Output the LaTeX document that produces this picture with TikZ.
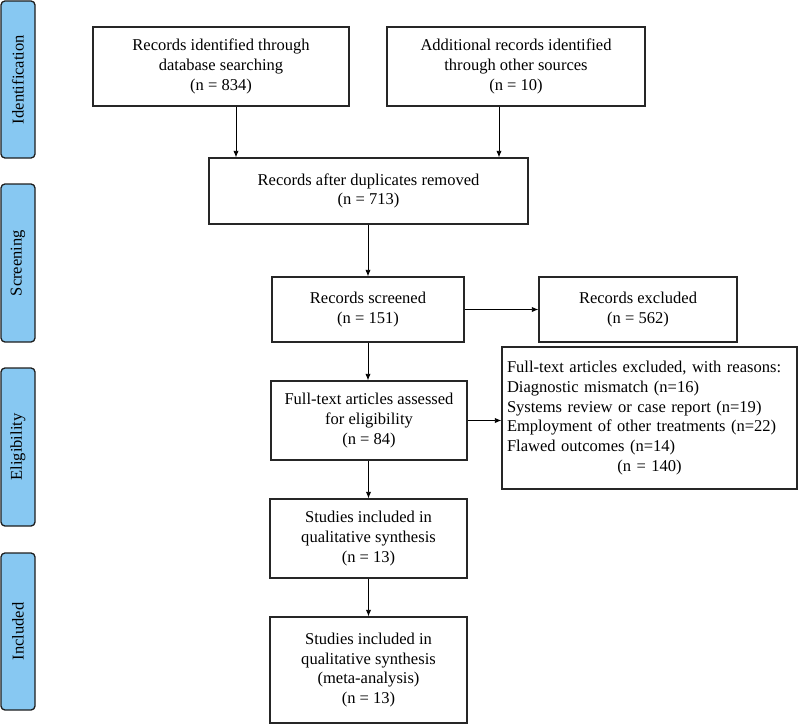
\documentclass[tikz,border=0pt]{standalone}
\usepackage{fontspec}
\setmainfont{Liberation Serif}
\usetikzlibrary{arrows.meta,calc}
\definecolor{sidefill}{RGB}{135,200,242}
\definecolor{sideline}{RGB}{30,30,30}
\begin{document}
\begin{tikzpicture}[x=0.75pt,y=-0.75pt,
  every node/.style={font=\fontsize{12.4pt}{14.8pt}\selectfont},
  box/.style={draw=black!85,line width=0.8pt,align=center,inner sep=0pt},
  side/.style={draw=sideline,fill=sidefill,line width=1pt,rounded corners=3pt,rotate=90,
    minimum height=25.5pt,inner sep=0pt},
  arr/.style={draw=black,line width=0.7pt,-{Latex[length=5pt,width=4pt]}}]
\useasboundingbox (0,0) rectangle (798,724);
% side labels
\node[side,minimum width=117.75pt] (sid) at (18,79.5) {Identification};
\node[side,minimum width=118.5pt] (sscr) at (18,263) {Screening};
\node[side,minimum width=118.5pt] (seli) at (18,447) {Eligibility};
\node[side,minimum width=117.75pt] (sinc) at (18,631.5) {Included};
% boxes
\node[box,minimum width=192pt,minimum height=59.25pt] (b1) at (221,66.5)
  {Records identified through\\database searching\\(n = 834)};
\node[box,minimum width=193.5pt,minimum height=59.25pt] (b2) at (516,66.5)
  {Additional records identified\\through other sources\\(n = 10)};
\node[box,minimum width=239.25pt,minimum height=49.5pt] (b3) at (368.5,191)
  {Records after duplicates removed\\(n = 713)};
\node[box,minimum width=144pt,minimum height=48.75pt] (scr) at (368,309.5)
  {Records screened\\(n = 151)};
\node[box,minimum width=148.5pt,minimum height=48.75pt] (exc) at (638,309.5)
  {Records excluded\\(n = 562)};
\node[box,minimum width=147pt,minimum height=59.25pt] (ass) at (369,420.5)
  {Full-text articles assessed\\for eligibility\\(n = 84)};
\node[box,align=left,text width=213.75pt,inner xsep=3.75pt,minimum height=106.5pt] (ftx) at (649.5,418)
  {Full-text articles excluded, with reasons:\\Diagnostic mismatch (n=16)\\Systems review or case report (n=19)\\Employment of other treatments (n=22)\\Flawed outcomes (n=14)\\\makebox[213.75pt][c]{(n = 140)}};
\node[box,minimum width=147.75pt,minimum height=59.25pt] (st1) at (368.5,538.5)
  {Studies included in\\qualitative synthesis\\(n = 13)};
\node[box,minimum width=147.75pt,minimum height=79.5pt] (st2) at (368.5,670)
  {Studies included in\\qualitative synthesis\\(meta-analysis)\\(n = 13)};
% connectors
\draw[arr] ([xshift=11.25pt]b1.south) -- ([xshift=11.25pt]b1.south |- b3.north);
\draw[arr] ([xshift=-12.75pt]b2.south) -- ([xshift=-12.75pt]b2.south |- b3.north);
\draw[arr] (b3.south -| scr.north) -- (scr.north);
\draw[arr] (scr.east) -- (exc.west);
\draw[arr] (scr.south) -- (scr.south |- ass.north);
\draw[arr] (ass.east) -- (ass.east -| ftx.west);
\draw[arr] (ass.south -| st1.north) -- (st1.north);
\draw[arr] (st1.south) -- (st2.north);
\end{tikzpicture}
\end{document}
